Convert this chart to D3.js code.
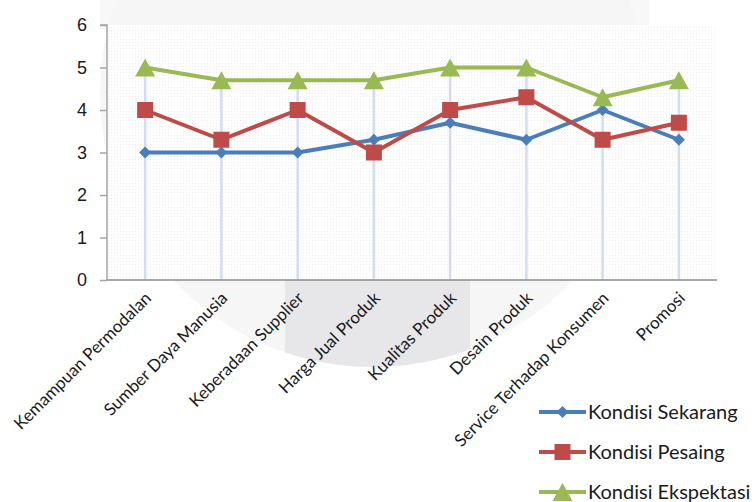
<!DOCTYPE html>
<html>
<head>
<meta charset="utf-8">
<script src="https://cdn.jsdelivr.net/npm/d3@7"></script>
<style>
  body { margin: 0; background: #fff; }
  svg { display: block; font-family: Lato, "Open Sans", sans-serif; }
</style>
</head>
<body>
<div id="chart"></div>
<script>
let categories = ["Kemampuan Permodalan", "Sumber Daya Manusia", "Keberadaan Supplier",
  "Harga Jual Produk", "Kualitas Produk", "Desain Produk", "Service Terhadap Konsumen", "Promosi"];
let sekarang = [3, 3, 3, 3.3, 3.7, 3.3, 4.0, 3.3];
let pesaing = [4, 3.3, 4, 3, 4, 4.3, 3.3, 3.7];
let ekspektasi = [5, 4.7, 4.7, 4.7, 5, 5, 4.3, 4.7];
let yTicks = [0, 1, 2, 3, 4, 5, 6];
let seriesNames = ["Kondisi Sekarang", "Kondisi Pesaing", "Kondisi Ekspektasi"];

let width = 756, height = 502;
let plotLeft = 107, plotRight = 717, plotTop = 25, plotBottom = 280;

// marker shapes, centred on 0,0
function diamond(s) { return "M0," + (-s) + "L" + s + ",0L0," + s + "L" + (-s) + ",0Z"; }
function square(s) { return "M" + (-s) + "," + (-s) + "h" + (2 * s) + "v" + (2 * s) + "h" + (-2 * s) + "Z"; }
function triangle(s) { return "M0," + (-s) + "L" + (s + 1) + "," + s + "L" + (-s - 1) + "," + s + "Z"; }

let series = [
  { name: seriesNames[0], values: sekarang, color: "#4a7ebb", marker: () => diamond(6) },
  { name: seriesNames[1], values: pesaing, color: "#be4b48", marker: () => square(8) },
  { name: seriesNames[2], values: ekspektasi, color: "#98b954", marker: () => triangle(9) }
];

let x = d3.scaleBand().domain(categories).range([plotLeft, plotRight]).padding(0);
let y = d3.scaleLinear().domain([0, 6]).range([plotBottom, plotTop]);
let cx = d => x(d) + x.bandwidth() / 2;

let svg = d3.select("#chart").append("svg")
  .attr("width", width)
  .attr("height", height);

// faint watermark behind the chart
let defs = svg.append("defs");
defs.append("clipPath").attr("id", "circ")
  .append("circle").attr("cx", 373).attr("cy", 94).attr("r", 273);
let dots = defs.append("pattern").attr("id", "dots")
  .attr("width", 3).attr("height", 3).attr("patternUnits", "userSpaceOnUse");
dots.append("rect").attr("width", 3).attr("height", 3).attr("fill", "#fefefe");
dots.append("rect").attr("width", 1).attr("height", 1).attr("fill", "#efefef");

let wm = svg.append("g");
wm.append("rect").attr("x", 100).attr("y", 0).attr("width", 178).attr("height", 30).attr("fill", "#f8f8f8");
wm.append("rect").attr("x", 470).attr("y", 0).attr("width", 179).attr("height", 30).attr("fill", "#f8f8f8");
wm.append("circle").attr("cx", 373).attr("cy", 94).attr("r", 273).attr("fill", "#f6f6f6");
wm.append("rect").attr("x", 285).attr("y", 200).attr("width", 185).attr("height", 200)
  .attr("fill", "#e7e7e9").attr("clip-path", "url(#circ)");

// plot area
svg.append("rect")
  .attr("x", plotLeft).attr("y", plotTop)
  .attr("width", plotRight - plotLeft).attr("height", plotBottom - plotTop)
  .attr("fill", "url(#dots)");

// drop lines from the highest point to the axis
svg.append("g").selectAll("line")
  .data(categories)
  .enter().append("line")
  .attr("x1", d => cx(d)).attr("x2", d => cx(d))
  .attr("y1", (d, i) => y(d3.max(series, s => s.values[i])))
  .attr("y2", y(0))
  .attr("stroke", "#d2ddf1")
  .attr("stroke-width", 2.5);

// axes
let yAxis = svg.append("g")
  .attr("transform", "translate(" + plotLeft + ",0)")
  .call(d3.axisLeft(y).tickValues(yTicks).tickSize(7).tickPadding(13).tickFormat(d3.format("d")));
yAxis.select(".domain").attr("stroke", "#a6a6a6").attr("stroke-width", 1.5)
  .attr("d", "M-7," + plotTop + "H0V" + plotBottom);
yAxis.selectAll(".tick line").attr("stroke", "#a6a6a6").attr("stroke-width", 1.5);
yAxis.selectAll(".tick text").attr("font-size", 18).attr("fill", "#1a1a1a");

svg.append("line")
  .attr("x1", plotLeft).attr("x2", plotRight)
  .attr("y1", y(0)).attr("y2", y(0))
  .attr("stroke", "#8c8c8c").attr("stroke-width", 1.5);

svg.append("g").selectAll("text")
  .data(categories)
  .enter().append("text")
  .attr("transform", d => "translate(" + (cx(d) + 3) + "," + (plotBottom + 15) + ") rotate(-45)")
  .attr("text-anchor", "end")
  .attr("dy", ".35em")
  .attr("font-size", 17)
  .attr("fill", "#1a1a1a")
  .text(d => d);

// series lines and markers
let line = d3.line()
  .x((d, i) => cx(categories[i]))
  .y(d => y(d));

series.forEach(function(s) {
  svg.append("path")
    .datum(s.values)
    .attr("d", line)
    .attr("fill", "none")
    .attr("stroke", s.color)
    .attr("stroke-width", 4)
    .attr("stroke-linejoin", "round");
  svg.append("g").selectAll("path")
    .data(s.values)
    .enter().append("path")
    .attr("transform", (d, i) => "translate(" + cx(categories[i]) + "," + y(d) + ")")
    .attr("d", s.marker)
    .attr("fill", s.color);
});

// legend
let legend = svg.append("g").selectAll("g")
  .data(series)
  .enter().append("g")
  .attr("transform", (d, i) => "translate(539," + (412 + i * 40) + ")");
legend.append("line")
  .attr("x1", 0).attr("x2", 47)
  .attr("stroke", d => d.color)
  .attr("stroke-width", 4);
legend.append("path")
  .attr("transform", "translate(23.5,0)")
  .attr("d", d => d.marker())
  .attr("fill", d => d.color);
legend.append("text")
  .attr("x", 49)
  .attr("dy", ".35em")
  .attr("font-size", 20)
  .attr("fill", "#1a1a1a")
  .text(d => d.name);
</script>
</body>
</html>
